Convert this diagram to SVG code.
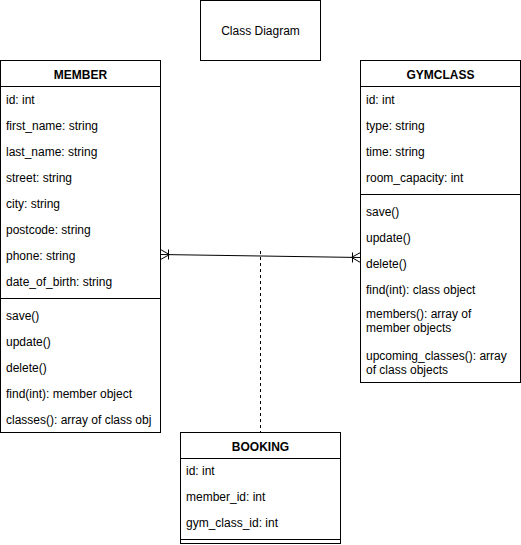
<svg xmlns="http://www.w3.org/2000/svg" width="521" height="545" viewBox="0 0 521 545">
<style>
text{font-family:"Liberation Sans",Arial,sans-serif;font-size:12px;fill:#000}
.t{font-weight:bold;text-anchor:middle}
.box{fill:#fff;stroke:#000;stroke-width:1}
.ln{stroke:#000;stroke-width:1;fill:none}
</style>
<rect width="521" height="545" fill="#fff"/>
<g id="title">
<rect class="box" x="200.5" y="0.5" width="120" height="60"/>
<text x="260.5" y="34.5" text-anchor="middle">Class Diagram</text>
</g>
<g id="connectors">
<line class="ln" x1="260.5" y1="251" x2="260.5" y2="432" stroke-dasharray="3 3"/>
<line class="ln" x1="160.5" y1="254.5" x2="360.5" y2="257.5"/>
<path class="ln" d="M160.5 249.5 L169.5 254.6 L160.5 259.5 M168.5 249.5 L168.5 259.5"/>
<path class="ln" d="M360.5 252.5 L351.5 257.4 L360.5 262.5 M352.5 252.5 L352.5 262.5"/>
</g>
<g id="member">
<rect class="box" x="0.5" y="60.5" width="160" height="372"/>
<line class="ln" x1="0.5" y1="86.5" x2="160.5" y2="86.5"/>
<line class="ln" x1="0.5" y1="298.5" x2="160.5" y2="298.5"/>
<text class="t" x="80.5" y="78.5">MEMBER</text>
<text x="6" y="104">id: int</text>
<text x="6" y="130">first_name: string</text>
<text x="6" y="156">last_name: string</text>
<text x="6" y="182">street: string</text>
<text x="6" y="208">city: string</text>
<text x="6" y="234">postcode: string</text>
<text x="6" y="260">phone: string</text>
<text x="6" y="286">date_of_birth: string</text>
<text x="6" y="320">save()</text>
<text x="6" y="346">update()</text>
<text x="6" y="372">delete()</text>
<text x="6" y="398">find(int): member object</text>
<text x="6" y="424">classes(): array of class obj</text>
</g>
<g id="gymclass">
<rect class="box" x="360.5" y="60.5" width="160" height="322"/>
<line class="ln" x1="360.5" y1="86.5" x2="520.5" y2="86.5"/>
<line class="ln" x1="360.5" y1="194.5" x2="520.5" y2="194.5"/>
<text class="t" x="440.5" y="78.5">GYMCLASS</text>
<text x="366" y="104">id: int</text>
<text x="366" y="130">type: string</text>
<text x="366" y="156">time: string</text>
<text x="366" y="182">room_capacity: int</text>
<text x="366" y="216">save()</text>
<text x="366" y="242">update()</text>
<text x="366" y="268">delete()</text>
<text x="366" y="294">find(int): class object</text>
<text x="366" y="318">members(): array of</text>
<text x="366" y="332">member objects</text>
<text x="366" y="360">upcoming_classes(): array</text>
<text x="366" y="374">of class objects</text>
</g>
<g id="booking">
<rect class="box" x="180.5" y="432.5" width="160" height="111"/>
<line class="ln" x1="180.5" y1="458.5" x2="340.5" y2="458.5"/>
<line class="ln" x1="180.5" y1="539.5" x2="340.5" y2="539.5"/>
<text class="t" x="260.5" y="450.5">BOOKING</text>
<text x="186" y="475">id: int</text>
<text x="186" y="501">member_id: int</text>
<text x="186" y="527">gym_class_id: int</text>
</g>
</svg>
